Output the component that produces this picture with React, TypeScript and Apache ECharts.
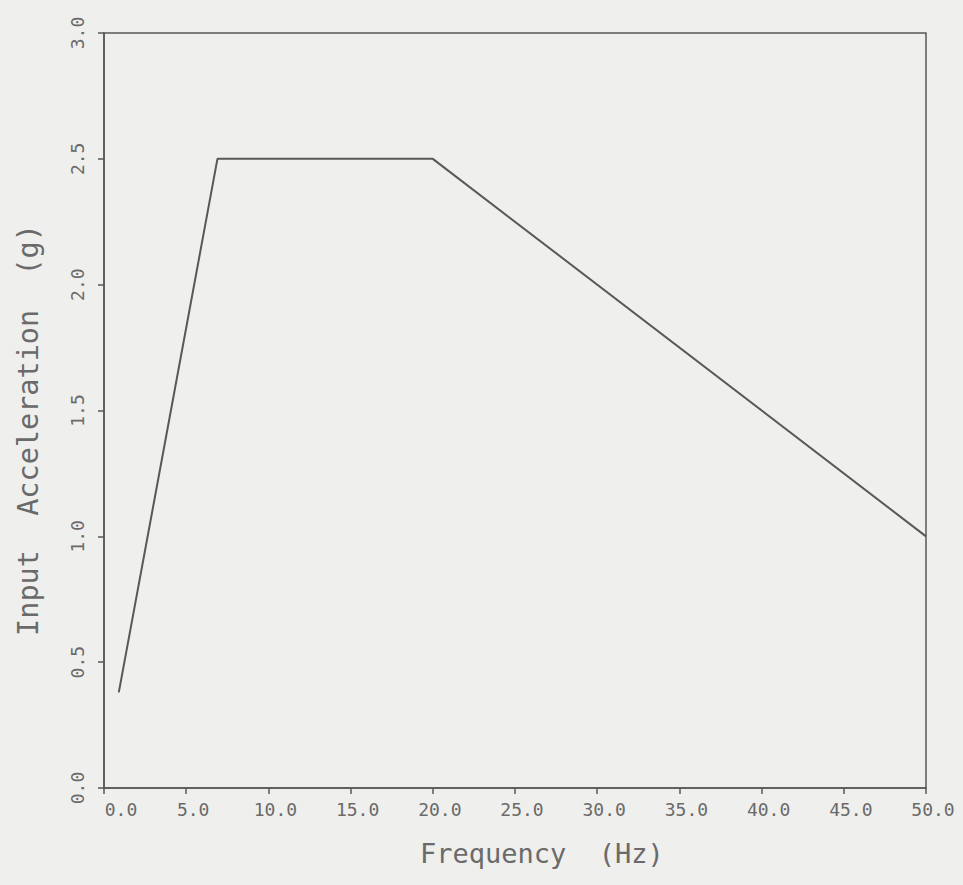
import React, { useEffect, useRef } from "react";
import * as echarts from "echarts";

const frequencyHz = [0.9, 6.9, 20.0, 50.0];
const accelerationG = [0.38, 2.5, 2.5, 1.0];
const xTicks = [0, 5, 10, 15, 20, 25, 30, 35, 40, 45, 50];
const yTicks = [0, 0.5, 1.0, 1.5, 2.0, 2.5, 3.0];
const xTitle = "Frequency  (Hz)";
const yTitle = "Input  Acceleration  (g)";

const FONT = "'DejaVu Sans Mono', monospace";
const TEXT = "#6a6a6a";
const LINE = "#585858";

export default function App() {
  const ref = useRef<HTMLDivElement>(null);
  useEffect(() => {
    if (!ref.current) return;
    const chart = echarts.init(ref.current, undefined, { renderer: "svg" });
    const data = frequencyHz.map((f, i) => [f, accelerationG[i]]);
    chart.setOption({
      animation: false,
      backgroundColor: "#efefed",
      grid: {
        left: 104,
        right: 37,
        top: 33,
        bottom: 97,
        show: true,
        borderColor: LINE,
        borderWidth: 1.5,
        backgroundColor: "transparent",
      },
      xAxis: {
        type: "value",
        min: xTicks[0],
        max: xTicks[xTicks.length - 1],
        interval: 5,
        splitLine: { show: false },
        axisLine: { show: true, lineStyle: { color: LINE, width: 1.5 } },
        axisTick: { show: true, length: 6, lineStyle: { color: LINE, width: 1.5 } },
        axisLabel: {
          margin: 12,
          color: TEXT,
          fontFamily: FONT,
          fontSize: 18,
          padding: [0, 0, 0, 14],
          formatter: (v: number) => (v === 0 ? "{z|0.0}" : v.toFixed(1)),
          rich: { z: { fontFamily: FONT, fontSize: 18, color: TEXT, padding: [0, 0, 0, 20] } },
        },
      },
      yAxis: {
        type: "value",
        min: yTicks[0],
        max: yTicks[yTicks.length - 1],
        interval: 0.5,
        splitLine: { show: false },
        axisLine: { show: true, lineStyle: { color: LINE, width: 1.5 } },
        axisTick: { show: true, length: 6, lineStyle: { color: LINE, width: 1.5 } },
        axisLabel: {
          rotate: 90,
          margin: 18,
          color: TEXT,
          fontFamily: FONT,
          fontSize: 18,
          padding: [0, 0, 0, 0],
          formatter: (v: number) => v.toFixed(1),
        },
      },
      graphic: [
        {
          type: "text",
          left: 420,
          top: 840,
          style: { text: xTitle, fontFamily: FONT, fontSize: 27, fill: TEXT },
        },
        {
          type: "text",
          x: 28,
          y: 430,
          rotation: Math.PI / 2,
          style: {
            text: yTitle,
            fontFamily: FONT,
            fontSize: 28.5,
            fill: TEXT,
            align: "center",
            verticalAlign: "middle",
          },
        },
      ],
      series: [
        {
          type: "line",
          data,
          symbol: "none",
          lineStyle: { color: LINE, width: 2 },
        },
      ],
    });
    return () => chart.dispose();
  }, []);
  return (
    <div
      ref={ref}
      style={{ position: "absolute", left: 0, top: 0, width: 963, height: 885 }}
    />
  );
}
